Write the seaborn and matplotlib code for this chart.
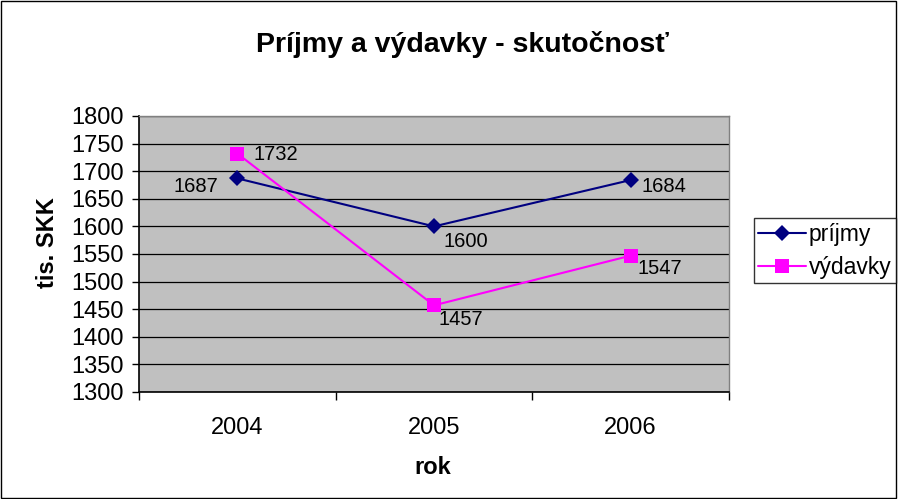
import matplotlib
matplotlib.use("Agg")
import matplotlib.pyplot as plt
import seaborn as sns
import pandas as pd
from matplotlib.ticker import FixedLocator, MultipleLocator
from matplotlib.lines import Line2D

years = ["2004", "2005", "2006"]
prijmy = [1687, 1600, 1684]
vydavky = [1732, 1457, 1547]
series_names = ["príjmy", "výdavky"]

sns.set_theme(style="white")
plt.rcParams['font.family'] = ['Liberation Sans', 'DejaVu Sans']
plt.rcParams['text.color'] = 'black'

df = pd.DataFrame({
    "rok": years * 2,
    "val": prijmy + vydavky,
    "series": [series_names[0]] * 3 + [series_names[1]] * 3,
})

C_P = "#000080"
C_V = "#FF00FF"

fig = plt.figure(figsize=(8.98, 4.99), dpi=100)
fig.patch.set_facecolor("white")
ax = fig.add_axes([139/898, 1-392/499, 590/898, 276/499])
ax.set_facecolor("#C0C0C0")

palette = {series_names[0]: C_P, series_names[1]: C_V}
markers = {series_names[0]: "D", series_names[1]: "s"}
sns.lineplot(data=df, x="rok", y="val", hue="series", style="series",
             palette=palette, markers=markers, dashes=False, linewidth=1.5,
             markersize=9, markeredgewidth=0, ax=ax, legend=False, zorder=3)
for line in ax.get_lines():
    if str(line.get_color()).lower() == C_V.lower():
        line.set_markersize(10.5)
    else:
        line.set_markersize(8.5)

ax.set_ylim(1300, 1800)
ax.set_xlim(-0.5, 2.5)
ax.yaxis.set_major_locator(MultipleLocator(50))
ax.grid(axis="y", color="black", linewidth=0.9)
ax.set_axisbelow(True)
ax.xaxis.set_major_locator(FixedLocator([0, 1, 2]))
ax.xaxis.set_minor_locator(FixedLocator([-0.5, 0.5, 1.5, 2.5]))
ax.tick_params(axis="x", which="major", length=0, pad=18, labelsize=17, colors="black")
ax.tick_params(axis="x", which="minor", length=6, width=1, color="black", direction="out", bottom=True)
ax.tick_params(axis="y", which="major", length=5, width=1, color="black", direction="out", left=True,
               labelsize=17, pad=6, colors="black")

for s in ["left", "bottom"]:
    ax.spines[s].set_color("black")
    ax.spines[s].set_linewidth(1.2)
for s in ["top", "right"]:
    ax.spines[s].set_color("#808080")
    ax.spines[s].set_linewidth(1)

ax.set_xlabel("")
ax.set_ylabel("")
fig.text(433/898, 1-467/499, "rok", fontsize=17, fontweight="bold",
         ha="center", va="center", color="black")
fig.text(47/898, 1-243/499, "tis. SKK", fontsize=17, fontweight="bold", rotation=90,
         ha="center", va="center", color="black")
fig.text(462/898, 1-44/499, "Príjmy a výdavky - skutočnosť", fontsize=20.5, fontweight="bold",
         ha="center", va="center", color="black")

# data labels (offsets in points)
offsets_p = [(-14, -6, "right"), (7, -11, "left"), (8, -5, "left")]
offsets_v = [(11.5, -1, "left"), (3.6, -10, "left"), (5, -9, "left")]
for i, v in enumerate(prijmy):
    dx, dy, ha = offsets_p[i]
    ax.annotate(str(v), (i, v), xytext=(dx, dy), textcoords="offset points",
                ha=ha, va="center", fontsize=14.5, color="black")
for i, v in enumerate(vydavky):
    dx, dy, ha = offsets_v[i]
    ax.annotate(str(v), (i, v), xytext=(dx, dy), textcoords="offset points",
                ha=ha, va="center", fontsize=14.5, color="black")

handles = [Line2D([], [], color=C_P, marker="D", markersize=8.5, markeredgewidth=0, linewidth=1.5),
           Line2D([], [], color=C_V, marker="s", markersize=10, markeredgewidth=0, linewidth=1.5)]
leg = fig.legend(handles, series_names, loc="upper right", bbox_to_anchor=(896/898, 1-218/499),
                 frameon=True, fancybox=False, edgecolor="black", fontsize=16.5,
                 handlelength=2.1, handletextpad=0.1, borderpad=0.2, labelspacing=0.45,
                 borderaxespad=0)
leg.get_frame().set_linewidth(1)
for t in leg.get_texts():
    t.set_color("black")

fig.add_artist(plt.Rectangle((0.001, 0.002), 0.997, 0.996, transform=fig.transFigure,
                             fill=False, edgecolor="black", linewidth=1))

fig.savefig("out.png", dpi=100)
